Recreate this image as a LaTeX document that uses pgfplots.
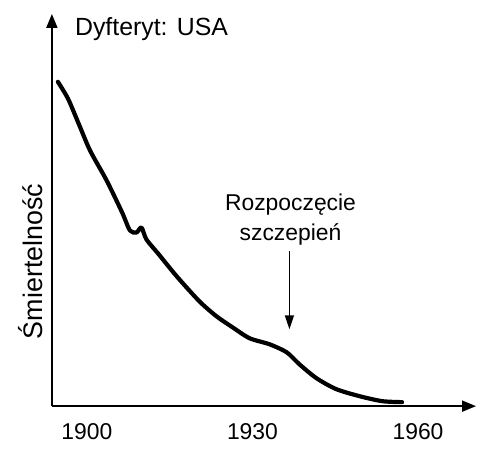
\documentclass[border=0pt]{standalone}
\usepackage{fontspec}
\setmainfont{Liberation Sans}
\usepackage{pgfplots}
\pgfplotsset{compat=1.18}
\usetikzlibrary{arrows.meta}

\begin{document}
\begin{tikzpicture}
\begin{axis}[
  scale only axis, width=212.5bp, height=196.5bp,
  xmin=1893.67, xmax=1970.5, ymin=0, ymax=393,
  axis lines=left,
  axis line style={line width=1bp, -{Triangle[length=7bp,width=5.5bp]}},
  xtick={1900,1930,1960}, ytick=\empty, major tick length=0,
  xticklabel style={font=\fontsize{11.5}{13}\selectfont, yshift=-5bp},
  /pgf/number format/assume math mode=true, /pgf/number format/1000 sep={},
  clip=false,
]
\addplot[line width=2.1bp, smooth, tension=0.45, line cap=round, line join=round] coordinates {
  (1894.76,325) (1896.6,308) (1898.6,282) (1900.6,256) (1903.6,226)
  (1906.4,194) (1907.8,176) (1909.0,174) (1909.9,179) (1910.8,167)
  (1912.9,153) (1916.3,130) (1920.4,105) (1923.5,90) (1926.4,79)
  (1929.5,68) (1933.1,62) (1936.2,54) (1938.5,42) (1941.6,28)
  (1945.2,17) (1949.4,10) (1953.5,5) (1957.1,4)
};
\node[anchor=west, font=\fontsize{12.5}{14}\selectfont] at (axis cs:1896.6,378) {Dyfteryt: USA};
\node[align=center, font=\fontsize{11.5}{15}\selectfont] at (axis cs:1936.9,187) {Rozpoczęcie\\szczepień};
\draw[line width=0.8bp, -{Triangle[length=7bp,width=4.5bp]}] (axis cs:1936.7,155) -- (axis cs:1936.7,77);
\node[rotate=90, font=\fontsize{13.5}{16}\selectfont] at (axis cs:1889.9,145) {Śmiertelność};
\path (axis cs:1884.27,407) rectangle (axis cs:1970.52,-48);
\end{axis}
\end{tikzpicture}
\end{document}
